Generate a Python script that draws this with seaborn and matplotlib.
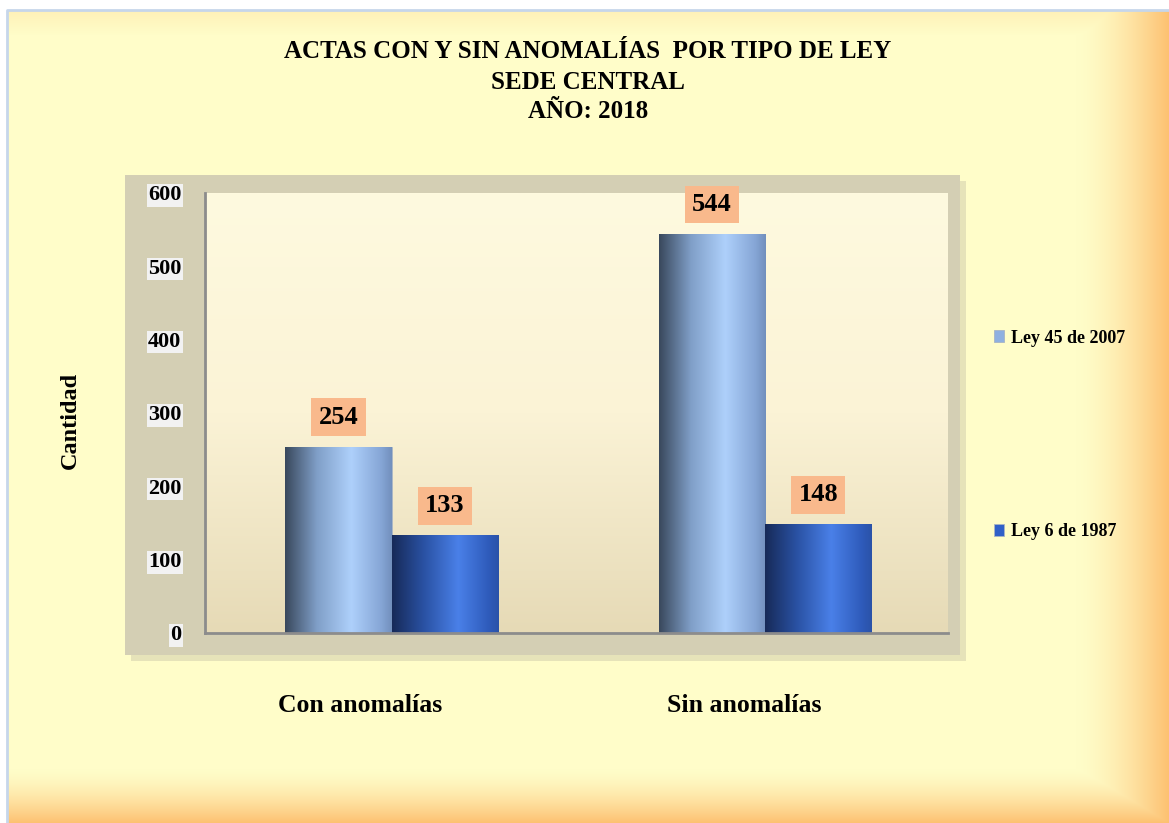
import numpy as np
import pandas as pd
import matplotlib
matplotlib.use('Agg')
import matplotlib.pyplot as plt
import matplotlib.transforms as mtransforms
from matplotlib.colors import LinearSegmentedColormap, to_rgb
from matplotlib.patches import Rectangle
import seaborn as sns

# Data
title_lines = ["ACTAS CON Y SIN ANOMALÍAS  POR TIPO DE LEY", "SEDE CENTRAL", "AÑO: 2018"]
categories = ["Con anomalías", "Sin anomalías"]
series_names = ["Ley 45 de 2007", "Ley 6 de 1987"]
ley45_values = [254, 544]
ley6_values = [133, 148]
y_ticks = [0, 100, 200, 300, 400, 500, 600]

df = pd.DataFrame({
    "estado": categories * 2,
    "ley": [series_names[0]] * 2 + [series_names[1]] * 2,
    "cantidad": ley45_values + ley6_values,
})

sns.set_theme(style="white")
plt.rcParams['font.family'] = ['Liberation Serif', 'DejaVu Serif']
plt.rcParams['font.weight'] = 'bold'
for key in ['text.color', 'axes.labelcolor', 'xtick.labelcolor', 'ytick.labelcolor']:
    plt.rcParams[key] = 'black'

W, H = 1169, 823
fig = plt.figure(figsize=(W / 100, H / 100), dpi=100)

# page background: pale yellow with orange glow on right and bottom edges
bg = fig.add_axes([0, 0, 1, 1], zorder=-10)
bg.axis('off')
xx, yy = np.meshgrid(np.arange(W), np.arange(H))
base = np.array(to_rgb('#fffdc9'))
orange = np.array(to_rgb('#fdc070'))
t = np.maximum(np.clip((xx - 1075) / 94, 0, 1) ** 1.6, np.clip((yy - 768) / 55, 0, 1) ** 1.5)
t = np.maximum(t, np.clip((35 - yy) / 25, 0, 1) * 0.2)
img = base + (orange - base) * t[..., None]
img[yy < 10] = 1.0
img[xx < 7] = 1.0
bg.imshow(img, extent=[0, W, H, 0], aspect='auto', interpolation='bilinear')
bg.plot([7, 7, W], [H, 10, 10], color='#c6d6ea', lw=2)
# chart wall with soft shadow
bg.add_patch(Rectangle((131, 181), 835, 480, color='#b8b49c', alpha=0.35, lw=0))
bg.add_patch(Rectangle((125, 175), 835, 480, color='#d4cfb4', lw=0))
bg.set_xlim(0, W)
bg.set_ylim(H, 0)

ax = fig.add_axes([205 / W, 1 - 633 / H, 743 / W, 440 / H])
ax.set_facecolor('none')
grad = np.linspace(0, 1, 256)[:, None]
wall_cmap = LinearSegmentedColormap.from_list('wall', ['#fefadf', '#fbf3d6', '#e6dab6'])
ax.imshow(grad, cmap=wall_cmap, extent=[0, 1, 0, 1], transform=ax.transAxes,
          aspect='auto', zorder=0)

palette = ['#8fb0e0', '#3060c8']
sns.barplot(data=df, x='estado', y='cantidad', hue='ley', hue_order=series_names,
            palette=palette, saturation=1, width=0.57, ax=ax,
            edgecolor='#a8b4c4', linewidth=0.6, zorder=2)

# cylinder-like shading on each bar
bar_cmaps = [
    LinearSegmentedColormap.from_list('b1', [(0, '#39485c'), (0.3, '#809fc8'), (0.62, '#aed0fb'),
                                             (0.9, '#86a6d6'), (1, '#7290bd')]),
    LinearSegmentedColormap.from_list('b2', [(0, '#172a58'), (0.3, '#2a52a4'), (0.62, '#4a80e8'),
                                             (0.9, '#2f5cbc'), (1, '#2a52a8')]),
]
hgrad = np.linspace(0, 1, 256)[None, :]
for cont, cmap in zip(ax.containers, bar_cmaps):
    for bar in cont:
        x0, w, h = bar.get_x(), bar.get_width(), bar.get_height()
        im = ax.imshow(hgrad, cmap=cmap, extent=[x0, x0 + w, 0, h], aspect='auto', zorder=2.5)
        im.set_clip_path(bar)
    ax.bar_label(cont, padding=13, fontsize=19, fontweight='bold', zorder=4, color='black',
                 bbox=dict(boxstyle='square,pad=0.28', facecolor='#f9b98c', edgecolor='none'))

ax.set_xlim(-0.5, 1.49)
ax.set_ylim(0, 600)
ax.set_yticks(y_ticks)
ax.set_xlabel('')
ax.set_ylabel('')
for side in ['top', 'right']:
    ax.spines[side].set_visible(False)
for side in ['left', 'bottom']:
    ax.spines[side].set_color('#8c8c8c')
    ax.spines[side].set_linewidth(2)
ax.tick_params(axis='y', direction='inout', length=8, width=1.5, color='#8c8c8c',
               pad=13, labelsize=16, labelcolor='black')
ax.tick_params(axis='x', length=0, pad=44, labelsize=18.5, labelcolor='black')
for lbl in ax.get_yticklabels():
    lbl.set_fontweight('bold')
    lbl.set_bbox(dict(facecolor='#f2f2f2', edgecolor='none', pad=1))
for lbl, dx in zip(ax.get_xticklabels(), [-0.32, -0.21]):
    lbl.set_fontweight('bold')
    lbl.set_transform(lbl.get_transform() + mtransforms.ScaledTranslation(dx, 0, fig.dpi_scale_trans))

handles, labels = ax.get_legend_handles_labels()
ax.get_legend().remove()
fig.legend(handles, labels, loc='center left', bbox_to_anchor=(0.850, 1 - 435 / H),
           frameon=False, prop={'size': 13, 'weight': 'bold'}, handlelength=0.6,
           handleheight=0.6, handletextpad=0.35, labelspacing=9.8, borderpad=0,
           borderaxespad=0)

fig.text(70 / W, 1 - 420 / H, 'Cantidad', rotation=90, ha='center', va='center',
         fontsize=17.5, fontweight='bold')
for line, yb in zip(title_lines, [58, 89, 118]):
    fig.text(588 / W, 1 - yb / H, line, ha='center', va='baseline', fontsize=18,
             fontweight='bold')

fig.savefig('out.png', dpi=100)
